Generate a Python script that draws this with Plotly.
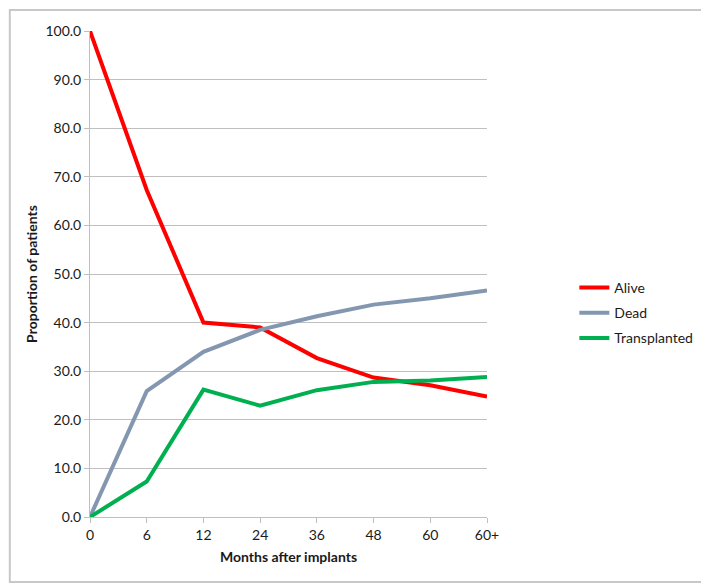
import plotly.graph_objects as go

meses = ['0', '6', '12', '24', '36', '48', '60', '60+']
vivos = [100.0, 67.3, 40.0, 39.0, 32.7, 28.7, 27.1, 24.8]
muertos = [0.0, 25.9, 34.0, 38.5, 41.3, 43.7, 45.0, 46.6]
trasplantados = [0.0, 7.3, 26.2, 22.9, 26.1, 27.8, 28.1, 28.8]

fuente = 'Lato'
gris = '#bfbfbf'

fig = go.Figure()

fig.add_trace(go.Scatter(x=meses, y=vivos, mode='lines', name='Alive',
                         legendgroup='a',
                         line=dict(color='#ff0000', width=4)))
fig.add_trace(go.Scatter(x=meses, y=muertos, mode='lines', name='Dead',
                         legendgroup='b',
                         line=dict(color='#8497b0', width=4)))
fig.add_trace(go.Scatter(x=meses, y=trasplantados, mode='lines', name='Transplanted',
                         legendgroup='c',
                         line=dict(color='#00b050', width=4)))

# la pagina tiene 8px de margen en el body, se descuenta aqui
fig.update_layout(width=701, height=579,
                  margin=dict(l=82, r=222, t=23, b=70, autoexpand=False),
                  paper_bgcolor='white', plot_bgcolor='white',
                  font=dict(family=fuente, size=14, color='#1a1a1a'),
                  legend=dict(x=1.22, y=0.42, xanchor='left', yanchor='middle',
                              font=dict(size=14), bgcolor='rgba(0,0,0,0)',
                              traceorder='grouped', tracegroupgap=4),
                  showlegend=True)

fig.update_xaxes(type='category', range=[0, 7],
                 showline=True, linecolor=gris, linewidth=1,
                 ticks='outside', ticklen=5, tickcolor=gris,
                 showgrid=False, zeroline=False,
                 title=dict(text='<b>Months after implants</b>', standoff=10,
                            font=dict(size=14)))

fig.update_yaxes(range=[0, 100], dtick=10, tickformat='.1f',
                 showline=True, linecolor=gris, linewidth=1,
                 ticks='outside', ticklen=5, tickcolor=gris,
                 showgrid=True, gridcolor=gris, gridwidth=1, zeroline=False,
                 title=dict(text='<b>Proportion of patients</b>', standoff=4,
                            font=dict(size=14)))

# borde del grafico
fig.add_shape(type='rect', xref='paper', yref='paper',
              x0=-0.202, x1=1.545, y0=-0.134, y1=1.043,
              line=dict(color='#c8c8c8', width=2), layer='below')

fig.write_html('out.html')
